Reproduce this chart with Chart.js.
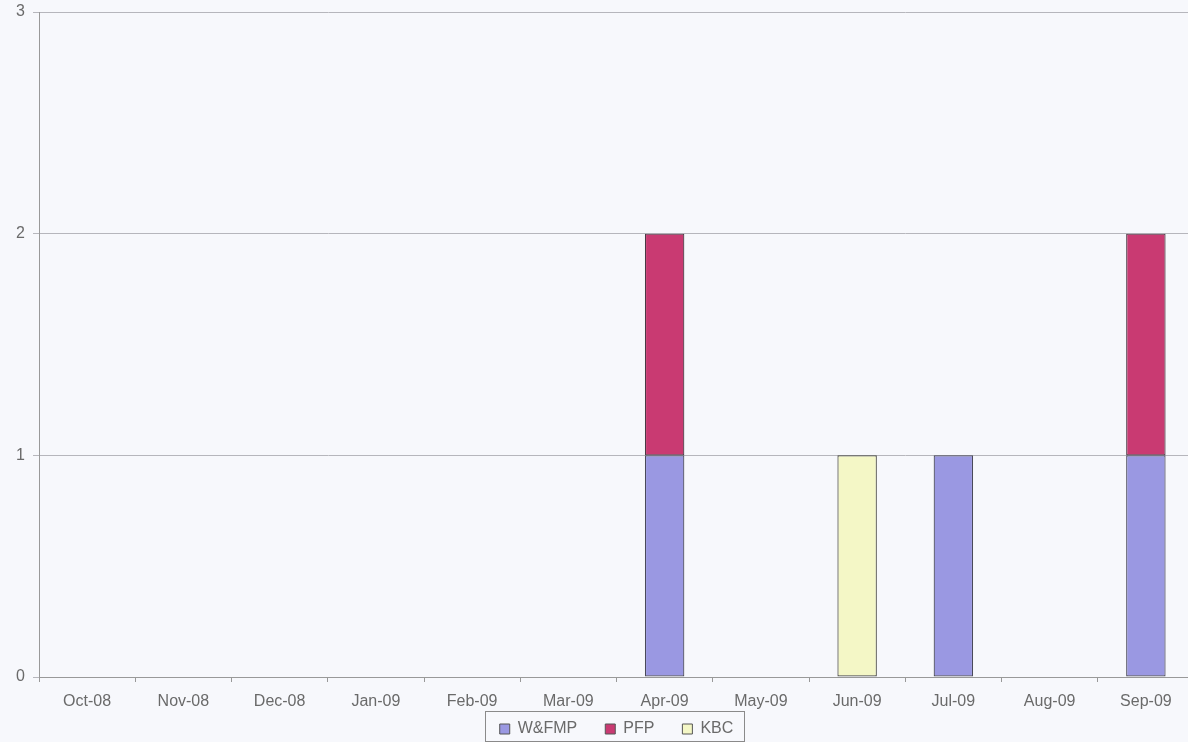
<!DOCTYPE html>
<html><head><meta charset="utf-8">
<script src="https://cdn.jsdelivr.net/npm/chart.js@4/dist/chart.umd.min.js"></script>
<style>html,body{margin:0;padding:0;background:#f7f8fc;overflow:hidden;}#wrap{width:1194px;height:742px;}</style>
</head><body><div id="wrap"><canvas id="c" width="1194" height="742"></canvas></div>
<script>
const categories = ["Oct-08","Nov-08","Dec-08","Jan-09","Feb-09","Mar-09","Apr-09","May-09","Jun-09","Jul-09","Aug-09","Sep-09"];
const wfmp = [0,0,0,0,0,0,1,0,0,1,0,1];
const pfp  = [0,0,0,0,0,0,1,0,0,0,0,1];
const kbc  = [0,0,0,0,0,0,0,0,1,0,0,0];
const yTicks = [0,1,2,3];

const FONT = 'Liberation Sans';
const LEG_PAD = 28;
const legendShift = {
  id:'legendShift',
  afterLayout(chart){
    const l = chart.legend, a = chart.chartArea;
    if(l){ l.left = a.left; l.right = a.right; l.top = l.top - 18; }
  },
  afterDraw(chart){
    const l = chart.legend; const ctx = chart.ctx;
    if(!l || !l.lineWidths) return;
    const lw = l.lineWidths[0];
    const x0 = (l.left + LEG_PAD + l.right - lw)/2;
    const x1 = x0 + lw - LEG_PAD;
    ctx.save(); ctx.strokeStyle='#8a8a8a'; ctx.lineWidth=1;
    ctx.strokeRect(Math.round(x0-15)+0.5, 711.5, Math.round(x1-x0+25), 30);
    ctx.restore();
  }
};
const bg = {id:'bg',beforeDraw(chart){const ctx=chart.ctx;ctx.save();ctx.fillStyle='#f7f8fc';ctx.fillRect(0,0,chart.width,chart.height);ctx.restore();}};

new Chart(document.getElementById('c'), {
  type:'bar',
  data:{labels:categories,datasets:[
    {label:'W&FMP',data:wfmp,backgroundColor:'#9a98e2',borderColor:'#4a4a5a',borderWidth:1.2,borderSkipped:false},
    {label:'PFP',data:pfp,backgroundColor:'#c93a72',borderColor:'#4a3a44',borderWidth:1.2,borderSkipped:false},
    {label:'KBC',data:kbc,backgroundColor:'#f4f7c6',borderColor:'#4a4a44',borderWidth:1.2,borderSkipped:false}
  ]},
  options:{
    responsive:false,animation:false,
    layout:{padding:{left:0,right:0,top:12,bottom:0}},
    datasets:{bar:{categoryPercentage:1,barPercentage:0.41}},
    plugins:{
      legend:{position:'bottom',maxHeight:31,labels:{boxWidth:10,boxHeight:10,font:{family:FONT,size:16},color:'#6a6a6a',padding:LEG_PAD,
        generateLabels(chart){return chart.data.datasets.map((d,i)=>({text:d.label,fillStyle:d.backgroundColor,strokeStyle:'#555',lineWidth:1,datasetIndex:i,fontColor:'#6a6a6a'}));}}},
      tooltip:{enabled:false}
    },
    scales:{
      x:{stacked:true,offset:true,
        grid:{offset:true,drawOnChartArea:false,drawTicks:true,tickLength:5,color:'#999'},
        border:{color:'#999'},
        ticks:{font:{family:FONT,size:16},color:'#6a6a6a',padding:10,maxRotation:0},
        afterFit(s){s.paddingLeft=0;s.paddingRight=0;s.height=34;}},
      y:{stacked:true,min:0,max:3,
        afterBuildTicks(s){s.ticks=yTicks.map(v=>({value:v}));},
        grid:{color:'#b6b6bc',tickLength:6},
        border:{color:'#999'},
        ticks:{font:{family:FONT,size:16},color:'#6a6a6a',padding:8},
        afterFit(s){s.width=39;s.paddingTop=0;s.paddingBottom=0;}
      }
    }
  },
  plugins:[bg,legendShift]
});
</script></body></html>
